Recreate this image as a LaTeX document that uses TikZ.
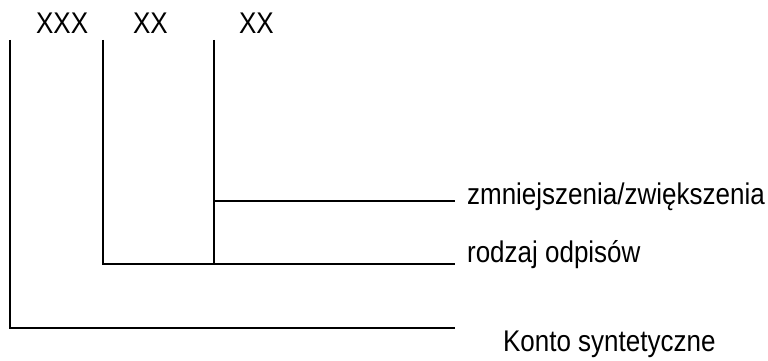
\documentclass[tikz,border=0pt]{standalone}
\usepackage{fontspec}
\setmainfont{Liberation Sans}
\usepackage{tikz}
\usetikzlibrary{positioning}

% scanned lettering is a little taller than Arial
\newcommand{\tallText}[1]{\scalebox{1}[1.15]{#1}}

\begin{document}
\begin{tikzpicture}[x=1pt,y=-1pt,line width=2.2pt,
    lbl/.style={anchor=base west,inner sep=0pt,font=\fontsize{26}{31}\selectfont}]
    \useasboundingbox (0,0) rectangle (768,361);

    \node[lbl] (code1) at (35,34) {\tallText{XXX}};
    \node[lbl] (code2) at (132,34) {\tallText{XX}};
    \node[lbl] (code3) at (238,34) {\tallText{XX}};

    \coordinate (top1) at (10,40);
    \coordinate (top2) at (103,40);
    \coordinate (top3) at (214,40);
    \coordinate (cor1) at (10,328);
    \coordinate (cor2) at (103,264);
    \coordinate (foot3) at (214,264);
    \coordinate (br3) at (214,201);
    \coordinate (end1) at (455,328);
    \coordinate (end2) at (455,264);
    \coordinate (end3) at (455,201);

    \foreach \from/\via/\to in {top1/cor1/end1,top2/cor2/end2}
    \draw (\from)--(\via)--(\to);
    \draw (top3)--(foot3);
    \draw (br3)--(end3);

    % descriptions
    \node[lbl] (zmiana) at (466,204) {\tallText{zmniejszenia/zwiększenia}};
    \node[lbl] (rodzaj) at (466,262) {\tallText{rodzaj odpisów}};
    \node[lbl] (konto) at (502,351) {\tallText{Konto syntetyczne}};
\end{tikzpicture}
\end{document}
